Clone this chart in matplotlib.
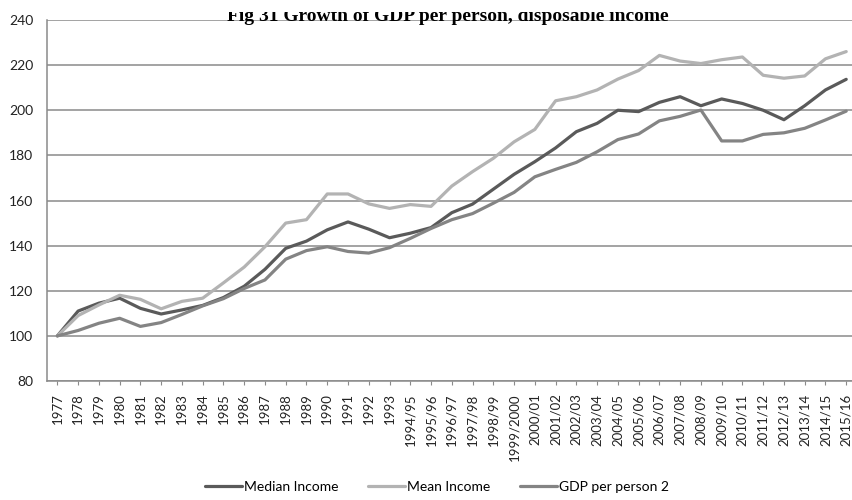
import matplotlib
matplotlib.use("Agg")
import matplotlib.pyplot as plt
from matplotlib.patches import Rectangle

years = ["1977", "1978", "1979", "1980", "1981", "1982", "1983", "1984", "1985",
         "1986", "1987", "1988", "1989", "1990", "1991", "1992", "1993",
         "1994/95", "1995/96", "1996/97", "1997/98", "1998/99", "1999/2000",
         "2000/01", "2001/02", "2002/03", "2003/04", "2004/05", "2005/06",
         "2006/07", "2007/08", "2008/09", "2009/10", "2010/11", "2011/12",
         "2012/13", "2013/14", "2014/15", "2015/16"]

median_income = [100, 111, 114.5, 116.7, 112.2, 109.7, 111.5, 113.5, 117, 122,
                 129.5, 138.8, 142, 147, 150.5, 147.3, 143.5, 145.5, 148,
                 154.6, 158.4, 165, 171.6, 177.2, 183.3, 190.5, 194.2, 200,
                 199.4, 203.5, 206, 202, 205, 203, 200, 195.8, 202, 209, 213.7]

mean_income = [100, 109, 113.7, 118, 116.2, 112, 115.3, 116.7, 123.5, 130.5,
               139.5, 150, 151.5, 162.9, 162.9, 158.5, 156.5, 158.2, 157.4,
               166.4, 172.8, 178.7, 186, 191.5, 204.2, 206, 209, 213.8, 217.6,
               224.3, 221.8, 220.7, 222.4, 223.6, 215.5, 214.2, 215.2, 222.8,
               226]

gdp_per_person = [100, 102.4, 105.6, 107.8, 104.2, 105.9, 109.5, 113.3, 116.5,
                  121, 124.8, 134, 137.8, 139.5, 137.4, 136.7, 139.1, 143.2,
                  147.6, 151.5, 154.2, 158.8, 163.6, 170.5, 173.8, 176.9,
                  181.6, 187, 189.5, 195.3, 197.3, 200.1, 186.4, 186.4, 189.3,
                  190, 192, 195.7, 199.6]

series_names = ["Median Income", "Mean Income", "GDP per person 2"]
colors = ["#5a5a5a", "#b3b3b3", "#848484"]

plt.rcParams["font.family"] = ["Lato", "DejaVu Sans"]

fig = plt.figure(figsize=(8.52, 5), dpi=100)
ax = fig.add_axes([47 / 852, 119 / 500, 809.6 / 852, 361 / 500])

x = list(range(len(years)))
for vals, name, c in zip([median_income, mean_income, gdp_per_person], series_names, colors):
    ax.plot(x, vals, color=c, lw=2.3, label=name, solid_joinstyle="round",
            solid_capstyle="round", zorder=3)

ax.set_xlim(-0.5, len(years) - 0.5)
ax.set_ylim(80, 240)
ax.set_yticks(range(80, 241, 20))
ax.set_xticks(x)
ax.set_xticklabels(years, rotation=90, fontsize=9.5, color="#222222")
ax.tick_params(axis="y", length=0, pad=10, labelsize=10, labelcolor="#222222")
ax.tick_params(axis="x", length=3, width=0.8, color="#8a8a8a", pad=6)
ax.grid(axis="y", color="#8a8a8a", lw=1.1, zorder=1)
ax.set_axisbelow(True)
for s in ["top", "right"]:
    ax.spines[s].set_visible(False)
for s in ["left", "bottom"]:
    ax.spines[s].set_color("#8a8a8a")
    ax.spines[s].set_linewidth(1.1)

# title sits half outside the top edge in the original, upper part hidden
fig.text(448 / 852, 1 - 21 / 500, "Fig 31 Growth of GDP per person, disposable income",
         ha="center", va="baseline", fontsize=14, fontweight="bold",
         family=["Liberation Serif", "DejaVu Serif"], zorder=4)
fig.patches.append(Rectangle((200 / 852, 1 - 12 / 500), 500 / 852, 12 / 500,
                             transform=fig.transFigure, facecolor="white",
                             edgecolor="none", zorder=5))

fig.legend(loc="center", bbox_to_anchor=(437 / 852, 1 - 487 / 500), ncol=3,
           frameon=False, fontsize=10, handlelength=2.7, handletextpad=0.15,
           columnspacing=2.1)

fig.savefig("out.png", dpi=100)
